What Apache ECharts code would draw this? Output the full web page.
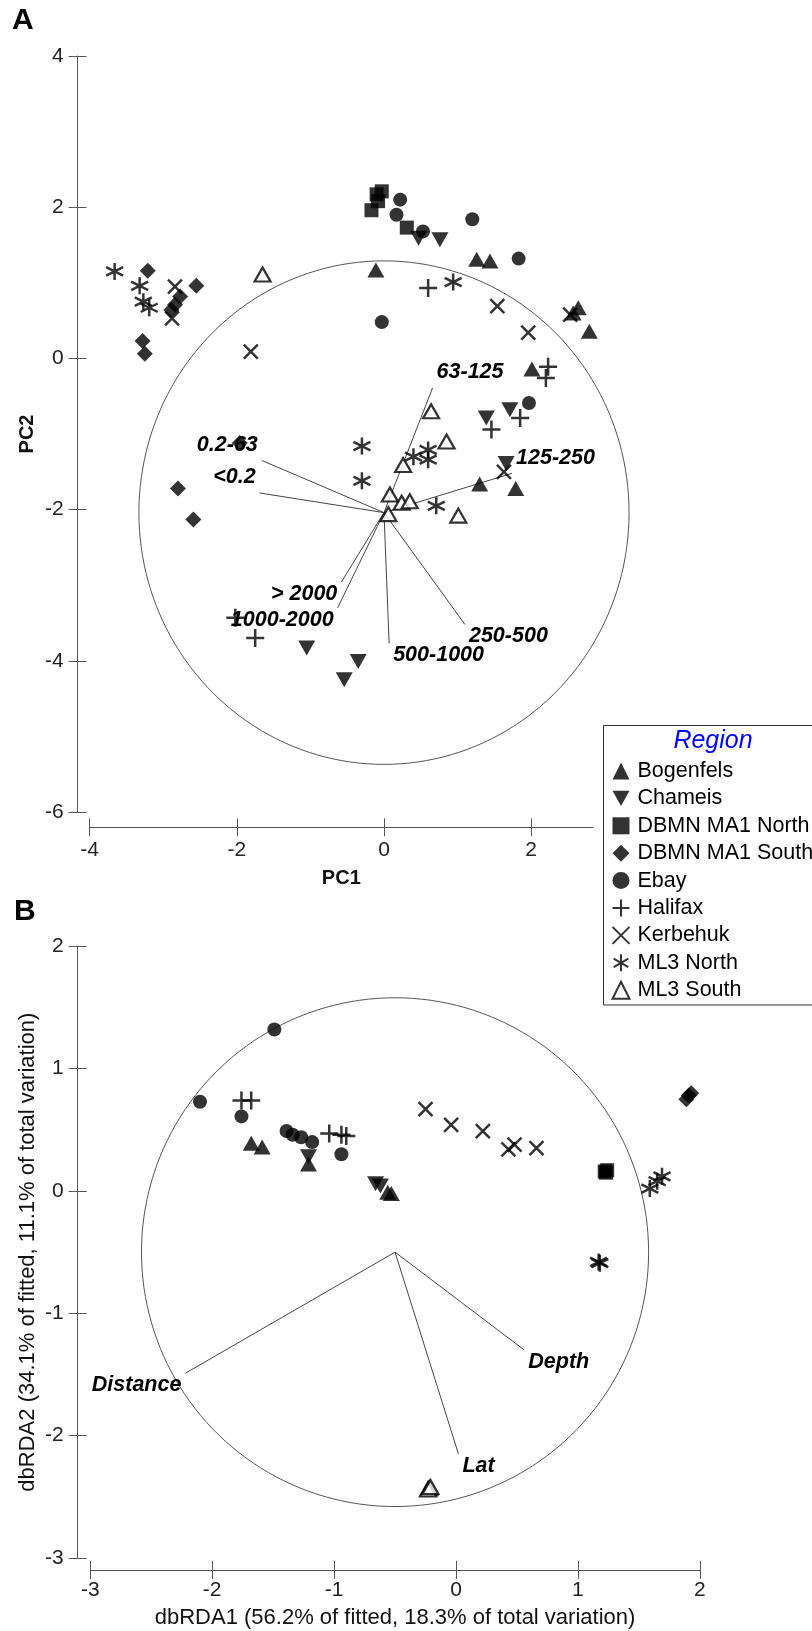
<!DOCTYPE html>
<html><head><meta charset="utf-8">
<script src="https://cdn.jsdelivr.net/npm/echarts@6/dist/echarts.min.js"></script>
<style>html,body{margin:0;padding:0;background:#fff}#c{width:812px;height:1631px}</style>
</head><body><div id="c"></div>
<script>
// ---------- DATA ----------
const regions = ['Bogenfels','Chameis','DBMN MA1 North','DBMN MA1 South','Ebay','Halifax','Kerbehuk','ML3 North','ML3 South'];

// Panel A (PCA) scores
const pcaBogenfels = [[-0.11,1.17],[1.26,1.31],[1.44,1.29],[2.64,0.67],[2.57,0.60],[2.79,0.36],[2.01,-0.14],[1.30,-1.66],[1.79,-1.72]];
const pcaChameis = [[0.47,1.59],[0.76,1.57],[1.71,-0.68],[1.39,-0.79],[1.66,-1.39],[-1.05,-3.83],[-0.35,-4.01],[-0.54,-4.25]];
const pcaDbmnNorth = [[-0.03,2.21],[-0.10,2.17],[-0.08,2.08],[-0.17,1.96],[0.31,1.73]];
const pcaDbmnSouth = [[-3.21,1.16],[-2.55,0.96],[-2.77,0.82],[-2.84,0.71],[-2.89,0.64],[-3.28,0.23],[-3.25,0.06],[-1.96,-1.12],[-2.80,-1.72],[-2.59,-2.13]];
const pcaEbay = [[0.22,2.10],[0.17,1.90],[0.53,1.68],[1.20,1.84],[1.83,1.32],[-0.03,0.48],[1.97,-0.59]];
const pcaHalifax = [[0.60,0.93],[2.23,-0.11],[2.20,-0.26],[1.85,-0.79],[1.46,-0.94],[-2.02,-3.43],[-1.75,-3.70]];
const pcaKerbehuk = [[-2.84,0.95],[-2.88,0.53],[-1.81,0.09],[1.54,0.69],[1.96,0.34],[2.53,0.58],[1.63,-1.50]];
const pcaMl3North = [[-3.66,1.15],[-3.32,0.96],[-3.27,0.75],[-3.19,0.67],[0.94,1.01],[-0.30,-1.16],[-0.30,-1.62],[0.40,-1.30],[0.60,-1.21],[0.60,-1.34],[0.71,-1.95]];
const pcaMl3South = [[-1.65,1.11],[0.64,-0.70],[0.85,-1.10],[0.26,-1.41],[0.08,-1.80],[0.24,-1.91],[0.35,-1.89],[0.06,-2.06],[1.01,-2.08]];

const pcaVectorNames = ['63-125','125-250','0.2-63','<0.2','> 2000','1000-2000','500-1000','250-500'];
const pcaVectorEnds = [[0.66,-0.39],[1.74,-1.52],[-1.66,-1.35],[-1.69,-1.78],[-0.58,-2.96],[-0.63,-3.30],[0.07,-3.77],[1.10,-3.52]];
const pcaOrigin = [0, -2.04];
const pcaRadius = 3.33;

// Panel B (dbRDA) scores
const rdaBogenfels = [[-1.68,0.39],[-1.59,0.36],[-1.21,0.22],[-0.56,-0.01],[-0.53,-0.02]];
const rdaChameis = [[-1.21,0.28],[-0.66,0.06],[-0.62,0.04]];
const rdaDbmnNorth = [[1.22,0.16],[1.24,0.17],[1.23,0.15]];
const rdaDbmnSouth = [[1.89,0.75],[1.91,0.78],[1.93,0.80]];
const rdaEbay = [[-1.49,1.32],[-2.10,0.73],[-1.76,0.61],[-1.39,0.49],[-1.34,0.46],[-1.27,0.44],[-1.18,0.40],[-0.94,0.30]];
const rdaHalifax = [[-1.76,0.74],[-1.68,0.74],[-1.04,0.47],[-0.94,0.46],[-0.90,0.45]];
const rdaKerbehuk = [[-0.25,0.67],[-0.04,0.54],[0.22,0.49],[0.48,0.38],[0.43,0.34],[0.66,0.35]];
const rdaMl3North = [[1.59,0.02],[1.65,0.08],[1.69,0.12],[1.17,-0.58],[1.18,-0.59]];
const rdaMl3South = [[-0.22,-2.43],[-0.23,-2.44],[-0.21,-2.42]];

const rdaVectorNames = ['Distance','Depth','Lat'];
const rdaVectorEnds = [[-2.22,-1.49],[0.56,-1.30],[0.02,-2.15]];
const rdaOrigin = [-0.5, -0.5];
const rdaRadius = 2.08;

// Tick values
const pcaXTicks = [-4,-2,0,2];
const pcaYTicks = [-6,-4,-2,0,2,4];
const rdaXTicks = [-3,-2,-1,0,1,2];
const rdaYTicks = [-3,-2,-1,0,1,2];

const pcaData = [pcaBogenfels,pcaChameis,pcaDbmnNorth,pcaDbmnSouth,pcaEbay,pcaHalifax,pcaKerbehuk,pcaMl3North,pcaMl3South];
const rdaData = [rdaBogenfels,rdaChameis,rdaDbmnNorth,rdaDbmnSouth,rdaEbay,rdaHalifax,rdaKerbehuk,rdaMl3North,rdaMl3South];

// ---------- STYLE ----------
const FONT = '"Liberation Sans", Arial, sans-serif';
const AX = '#555';
const strokeSym = {color:'none', borderColor:'#000', borderWidth:2.5};
const symbolStyles = [
  {symbol:'triangle', symbolSize:[17,15], itemStyle:{color:'#000'}},
  {symbol:'path://M0,0L20,0L10,18Z', symbolSize:[17,15], itemStyle:{color:'#000'}},
  {symbol:'rect', symbolSize:14, itemStyle:{color:'#000'}},
  {symbol:'diamond', symbolSize:16, itemStyle:{color:'#000'}},
  {symbol:'circle', symbolSize:14, itemStyle:{color:'#000'}},
  {symbol:'path://M10,0L10,20M0,10L20,10', symbolSize:18, itemStyle:strokeSym},
  {symbol:'path://M0,0L20,20M0,20L20,0', symbolSize:14, itemStyle:strokeSym},
  {symbol:'path://M10,0L10,20M1.34,5L18.66,15M1.34,15L18.66,5', symbolSize:[17,17], itemStyle:strokeSym},
  {symbol:'triangle', symbolSize:[16,14], itemStyle:{color:'#fff', borderColor:'#000', borderWidth:2.2}}
];

function mkAxis(gridIndex, min, max, interval, ticks, offset, name, nameGap, nameStyle, margin, dup) {
  return {
    type:'value', gridIndex, min, max, interval, offset,
    name: dup ? '' : name, nameLocation:'middle', nameGap, nameMoveOverlap:false,
    nameTextStyle: Object.assign({fontFamily:FONT, color:'#111'}, nameStyle),
    axisLine:{show:!dup, onZero:false, lineStyle:{color:AX, width:1}},
    axisTick:{show:true, inside:dup, length:9, customValues:ticks, lineStyle:{color:AX, width:1}},
    axisLabel:{show:!dup, customValues:ticks, margin, fontSize:21, color:'#222', fontFamily:FONT},
    splitLine:{show:false}
  };
}

function circleSeries(idx, origin, radius) {
  return {
    type:'custom', xAxisIndex:idx, yAxisIndex:idx, silent:true, z:1, clip:false,
    data:[[origin[0], origin[1], radius]],
    renderItem: function(params, api) {
      const cx = api.value(0), cy = api.value(1), r = api.value(2);
      const pts = [];
      for (let k = 0; k <= 360; k += 2) {
        const a = k * Math.PI / 180;
        pts.push(api.coord([cx + r * Math.cos(a), cy + r * Math.sin(a)]));
      }
      return {type:'polyline', shape:{points:pts}, style:{stroke:'#555', fill:null, lineWidth:1}};
    }
  };
}

function vectorSeries(idx, origin, ends, names) {
  return {
    type:'custom', xAxisIndex:idx, yAxisIndex:idx, silent:true, z:2, clip:false,
    data: ends.map(e => e.slice()),
    renderItem: function(params, api) {
      const o = api.coord(origin);
      const e = api.coord([api.value(0), api.value(1)]);
      const right = e[0] >= o[0];
      const below = e[1] > o[1];
      return {type:'group', children:[
        {type:'line', shape:{x1:o[0], y1:o[1], x2:e[0], y2:e[1]}, style:{stroke:'#444', lineWidth:1}},
        {type:'text', x: e[0] + (right ? 4 : -4), y: e[1] + (below ? 12 : -15.5),
         style:{text:names[params.dataIndex], align: right ? 'left' : 'right', verticalAlign:'middle',
                font:'italic bold 21.5px ' + FONT, fill:'#000'}}
      ]};
    }
  };
}

const series = [];
series.push(circleSeries(0, pcaOrigin, pcaRadius));
series.push(vectorSeries(0, pcaOrigin, pcaVectorEnds, pcaVectorNames));
series.push(circleSeries(1, rdaOrigin, rdaRadius));
series.push(vectorSeries(1, rdaOrigin, rdaVectorEnds, rdaVectorNames));
regions.forEach((name, i) => {
  const st = symbolStyles[i];
  series.push(Object.assign({type:'scatter', name, xAxisIndex:0, yAxisIndex:0, z:5, data:pcaData[i]}, st));
  series.push(Object.assign({type:'scatter', name, xAxisIndex:1, yAxisIndex:1, z:5, data:rdaData[i]}, st));
});

const gridA = {left:89.6, top:56, width:503.4, height:756, outerBoundsMode:'none', containLabel:false};
const gridB = {left:90.3, top:946.4, width:609.5, height:611.5, outerBoundsMode:'none', containLabel:false};

const option = {
  animation:false,
  backgroundColor:'#fff',
  grid:[gridA, gridB, Object.assign({}, gridA), Object.assign({}, gridB)],
  xAxis:[
    mkAxis(0, -4, 2.84, 2, pcaXTicks, 15.3, 'PC1', 41, {fontSize:20, fontWeight:'bold'}, 12, false),
    mkAxis(1, -3, 2, 1, rdaXTicks, 12, 'dbRDA1 (56.2% of fitted, 18.3% of total variation)', 37, {fontSize:22}, 10, false),
    mkAxis(2, -4, 2.84, 2, pcaXTicks, 15.3, '', 0, {}, 0, true),
    mkAxis(3, -3, 2, 1, rdaXTicks, 12, '', 0, {}, 0, true)
  ],
  yAxis:[
    mkAxis(0, -6, 4, 2, pcaYTicks, 12, 'PC2', 40.5, {fontSize:20, fontWeight:'bold'}, 14, false),
    mkAxis(1, -3, 2, 1, rdaYTicks, 12.6, 'dbRDA2 (34.1% of fitted, 11.1% of total variation)', 38.5, {fontSize:22}, 14, false),
    mkAxis(2, -6, 4, 2, pcaYTicks, 12, '', 0, {}, 0, true),
    mkAxis(3, -3, 2, 1, rdaYTicks, 12.6, '', 0, {}, 0, true)
  ],
  legend:{
    show:true, orient:'vertical', left:603, top:725,
    padding:[35, 2, 5, 7],
    itemGap:5.4, itemWidth:17, itemHeight:17,
    borderWidth:0, backgroundColor:'transparent',
    selectedMode:false,
    textStyle:{fontSize:21.5, lineHeight:21, color:'#000', fontFamily:FONT, padding:[0,0,0,3]},
    data:regions
  },
  graphic:[
    {type:'rect', z:-1, shape:{x:603.5, y:725.5, width:260, height:279.5}, style:{fill:'#fff', stroke:'#333', lineWidth:1}},
    {type:'text', x:12, y:21, z:100, style:{text:'A', font:'bold 30px ' + FONT, fill:'#000', verticalAlign:'middle'}},
    {type:'text', x:14, y:912, z:100, style:{text:'B', font:'bold 30px ' + FONT, fill:'#000', verticalAlign:'middle'}},
    {type:'text', x:713, y:741, z:100, style:{text:'Region', font:'italic 25px ' + FONT, fill:'#0000ff', align:'center', verticalAlign:'middle'}}
  ],
  series
};

const chart = echarts.init(document.getElementById('c'), null, {renderer:'canvas'});
chart.setOption(option);
</script>
</body></html>
